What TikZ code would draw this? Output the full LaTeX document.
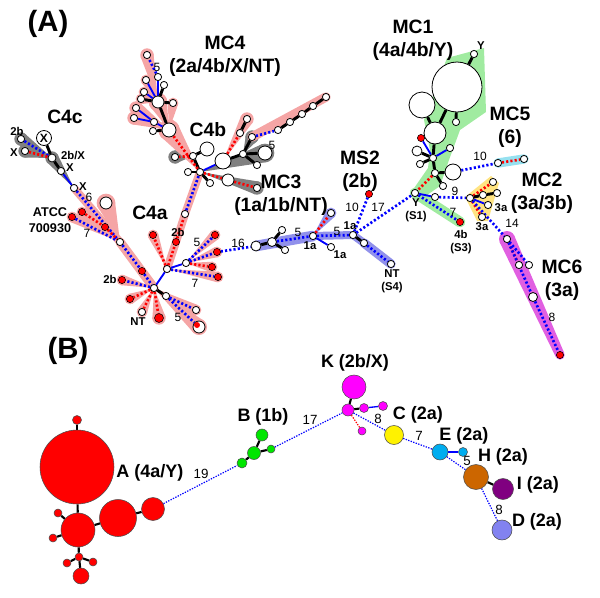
\documentclass[tikz,border=0pt]{standalone}
\usepackage{fontspec}
\setmainfont{Liberation Sans}
\usetikzlibrary{calc}
\definecolor{pinkb}{RGB}{245,165,165}
\definecolor{grayb}{RGB}{128,128,128}
\definecolor{lavb}{RGB}{145,145,235}
\definecolor{greenb}{RGB}{160,235,160}
\definecolor{cyanb}{RGB}{150,225,240}
\definecolor{yelb}{RGB}{255,228,130}
\definecolor{magb}{RGB}{225,95,225}
\definecolor{horange}{RGB}{204,102,0}
\definecolor{ipurple}{RGB}{128,0,128}
\definecolor{dblue}{RGB}{130,130,240}
\definecolor{bgreen}{RGB}{0,230,0}
\definecolor{kmag}{RGB}{255,0,255}
\pgfdeclarelayer{bands}
\pgfdeclarelayer{edges}
\pgfsetlayers{bands,edges,main}
\newcommand\myfan[4]{\fill[#1] (#2.center) -- ($(#3.center)!#4!90:(#2.center)$) -- ($(#3.center)!#4!-90:(#2.center)$) -- cycle; \fill[#1] (#3.center) circle[radius=#4];}
\newcommand\myband[4]{\draw[#1, line width=#4, line cap=round] (#2.center) -- (#3.center);}
\tikzset{
 wn/.style={circle,draw=black,fill=white,line width=0.6pt,inner sep=0pt,minimum size=#1*1.5pt},
 wn/.default=3.6,
 rn/.style={circle,draw=black,fill=red,line width=0.4pt,inner sep=0pt,minimum size=#1*1.5pt},
 rn/.default=3.6,
 pc/.style={circle,draw=black!70,line width=0.4pt,inner sep=0pt,minimum size=#1*1.5pt},
 bk/.style={line width=2.2pt,black},
 bs/.style={line width=1.4pt,blue},
 bd/.style={line width=2pt,blue,dash pattern=on 1.6pt off 1.6pt},
 rd/.style={line width=2pt,red,dash pattern=on 1.6pt off 1.6pt},
 td/.style={line width=0.9pt,blue,dash pattern=on 1pt off 1pt},
 bkt/.style={line width=1.6pt,black},
 bst/.style={line width=1pt,blue},
 rdt/.style={line width=0.9pt,red,dash pattern=on 1pt off 1pt},
 tl/.style={font=\bfseries\fontsize{22}{24}\selectfont},
 ml/.style={font=\bfseries\fontsize{14.5}{17.5}\selectfont, align=center, inner sep=0pt},
 sl/.style={font=\bfseries\fontsize{8.5}{10}\selectfont, inner sep=0.5pt, align=center},
 nl/.style={font=\fontsize{9}{10}\selectfont, inner sep=0.5pt},
 bl/.style={font=\bfseries\fontsize{13.5}{15}\selectfont, inner sep=0pt},
}
\begin{document}
\begin{tikzpicture}[x=0.75pt,y=-0.75pt]
\useasboundingbox (0,0) rectangle (600,597);
% ================= Panel A nodes =================
% C4c
\node[wn] (c1) at (21,139) {};
\node[wn] (c2) at (25,151) {};
\node[wn=7.5, font=\bfseries\fontsize{9}{9}\selectfont] (c3) at (44,138) {X};
\node[wn=4] (c4) at (52,158) {};
\node[wn] (c5) at (61,171) {};
\node[wn] (c6) at (74,188) {};
\node[wn=6] (c7) at (106,203) {};
\node[rn] (r1) at (82,212) {};
\node[rn] (r2) at (72,217) {};
\node[rn] (r3) at (105,227) {};
% C4a
\node[wn] (a1) at (120,242) {};
\node[rn] (a2) at (142,271) {};
\node[wn] (h4a) at (154,288) {};
\node[rn] (a3) at (122,280) {};
\node[rn] (a4) at (130,299) {};
\node[wn] (a5) at (142,312) {};
\node[rn=4.5] (a6) at (159,318) {};
\node[wn] (a7) at (166,296) {};
\node[wn] (a8) at (196,310) {};
\node[wn=6] (a9) at (199,327) {};
\node[circle,fill=red,inner sep=0pt,minimum size=4.5pt] (a9r) at (197,325) {};
\node[wn] (hub2) at (167,269) {};
\node[rn] (a10) at (153,235) {};
\node[rn] (a11) at (176,242) {};
\node[wn] (a12) at (185,214) {};
\node[wn] (a13) at (186,263) {};
\node[rn] (a14) at (215,235) {};
\node[rn] (a15) at (217,252) {};
\node[rn] (a16) at (212,267) {};
\node[rn] (a17) at (218,277) {};
% C4b
\node[wn] (hb) at (200,172) {};
\node[wn] (b1) at (193,156) {};
\node[wn=7] (b2) at (207,149) {};
\node[wn] (b3) at (175,157) {};
\node[wn] (b4) at (188,172) {};
\node[wn] (b5) at (210,183) {};
\node[wn=8] (b6) at (223,161) {};
\node[wn=6] (b7) at (228,180) {};
\node[wn] (b8) at (257,188) {};
\node[wn] (b9) at (243,154) {};
\node[wn=7] (b10) at (265,153) {};
\node[wn] (b11) at (257,165) {};
\node[wn] (b12) at (240,133) {};
\node[wn] (b13) at (247,119) {};
\node[wn] (b14) at (252,137) {};
\node[wn] (b15) at (278,130) {};
\node[wn] (b16) at (290,122) {};
\node[wn] (b17) at (302,114) {};
\node[wn] (b18) at (313,106) {};
\node[wn] (b19) at (326,97) {};
% MC4
\node[wn=7] (g1) at (169,130) {};
\node[wn=6] (g2) at (158,102) {};
\node[wn] (g3) at (154,122) {};
\node[wn] (g4) at (153,131) {};
\node[wn] (g5) at (136,108) {};
\node[wn] (g6) at (134,118) {};
\node[wn] (g7) at (173,103) {};
\node[wn] (g8) at (141,99) {};
\node[wn] (g9) at (144,92) {};
\node[wn] (g10) at (146,80) {};
\node[wn] (g11) at (158,77) {};
\node[wn] (g12) at (164,85) {};
\node[wn] (g13) at (147,55) {};
% MC3 / MS2
\node[wn=5] (m1) at (256,246) {};
\node[wn=4.5] (m2) at (272,242) {};
\node[wn] (m3) at (282,230) {};
\node[wn] (m4) at (285,250) {};
\node[wn] (mh) at (313,236) {};
\node[wn] (m5) at (331,213) {};
\node[wn] (m6) at (331,247) {};
\node[wn] (mj) at (353,235) {};
\node[wn] (m7) at (364,243) {};
\node[wn] (m8) at (391,264) {};
\node[rn] (ms2) at (369,194) {};
% MC1
\node[wn=25] (y1) at (457,87) {};
\node[wn] (y0) at (474,54) {};
\node[wn=13] (y2) at (422,105) {};
\node[wn=11] (y3) at (435,133) {};
\node[wn] (y4) at (456,122) {};
\node[rn] (y5) at (421,138) {};
\node[wn] (yh1) at (433,158) {};
\node[wn=5] (y6) at (417,151) {};
\node[wn] (y7) at (450,148) {};
\node[wn] (y8) at (420,164) {};
\node[wn] (yh2) at (435,173) {};
\node[wn=8] (y9) at (453,172) {};
\node[wn] (y10) at (443,186) {};
\node[wn] (ys1) at (415,193) {};
\node[wn] (y11) at (435,197) {};
\node[rn] (y12) at (460,222) {};
% MC5
\node[wn] (f1) at (498,163) {};
\node[wn] (f2) at (524,159) {};
% MC2
\node[wn] (q0) at (470,198) {};
\node[wn] (q1) at (493,182) {};
\node[wn] (q2) at (483,195) {};
\node[wn] (q3) at (497,193) {};
\node[wn] (q4) at (488,205) {};
\node[wn] (q5) at (482,217) {};
% MC6
\node[wn] (s1) at (507,239) {};
\node[wn] (s2) at (519,265) {};
\node[wn] (s3) at (529,265) {};
\node[wn=4.5] (s4) at (533,297) {};
\node[rn] (s5) at (560,355) {};

% ================= Panel B nodes =================
\node[pc=37, fill=red] (A1) at (77,467) {};
\node[pc=4.5, fill=red] (A0) at (77,420) {};
\node[pc=17, fill=red] (A2) at (78,530) {};
\node[pc=18.5, fill=red] (A3) at (118,518) {};
\node[pc=11.5, fill=red] (A4) at (153,509) {};
\node[pc=4, fill=red] (A5) at (58,513) {};
\node[pc=4, fill=red] (A6) at (53,538) {};
\node[pc=4, fill=red] (A7) at (79,557) {};
\node[pc=4, fill=red] (A8) at (67,563) {};
\node[pc=4, fill=red] (A9) at (93,562) {};
\node[pc=8, fill=red] (A10) at (81,576) {};
\node[pc=5, fill=bgreen] (B1) at (242,463) {};
\node[pc=6.5, fill=bgreen] (B2) at (254,453) {};
\node[pc=6, fill=bgreen] (B3) at (262,435) {};
\node[pc=4, fill=bgreen] (B4) at (271,449) {};
\node[pc=12, fill=kmag] (K1) at (354,387) {};
\node[pc=6, fill=kmag] (K0) at (348,410) {};
\node[pc=4.5, fill=kmag] (K3) at (364,408) {};
\node[pc=4.5, fill=kmag] (K4) at (383,406) {};
\node[pc=4, fill=kmag] (K5) at (362,431) {};
\node[pc=9.5, fill=yellow] (C) at (394,435) {};
\node[pc=8, fill=cyan] (E) at (440,452) {};
\node[pc=4.5, fill=cyan] (E2) at (463,452) {};
\node[pc=12.5, fill=horange] (H) at (476,477) {};
\node[pc=10.5, fill=ipurple] (I) at (503,489) {};
\node[pc=10, fill=dblue] (D) at (502,530) {};

% ================= Bands =================
\begin{pgfonlayer}{bands}
% C4c gray
\myfan{grayb}{c4}{c1}{5pt}
\myfan{grayb}{c4}{c2}{5pt}
\myfan{grayb}{c6}{c4}{5pt}
% C4a pink
\myband{pinkb}{c6}{a1}{6pt}
\myfan{pinkb}{a1}{c7}{7pt}
\myfan{pinkb}{a1}{r1}{4pt}
\myfan{pinkb}{a1}{r2}{4pt}
\myband{pinkb}{a1}{h4a}{7pt}
\myfan{pinkb}{h4a}{a3}{4pt}
\myfan{pinkb}{h4a}{a4}{4pt}
\myfan{pinkb}{h4a}{a5}{4pt}
\myfan{pinkb}{h4a}{a6}{5pt}
\myfan{pinkb}{h4a}{a8}{4pt}
\myfan{pinkb}{h4a}{a9}{6pt}
\myfan{pinkb}{hub2}{a10}{4pt}
\myband{pinkb}{hub2}{a11}{6pt}
\myband{pinkb}{a11}{a12}{6pt}
\myband{pinkb}{a12}{hb}{6pt}
\myfan{pinkb}{a13}{a14}{4pt}
\myfan{pinkb}{a13}{a15}{4pt}
\myfan{pinkb}{a13}{a16}{4pt}
\myfan{pinkb}{hub2}{a17}{4pt}
% C4b
\myfan{grayb}{b1}{b3}{5pt}
\myfan{grayb}{hb}{b8}{5pt}
\myfan{grayb}{hb}{b10}{7pt}
\myfan{grayb}{b9}{b14}{5pt}
\myfan{pinkb}{b6}{b13}{5pt}
\myband{pinkb}{b14}{b19}{7pt}
% MC4
\myfan{pinkb}{hb}{g1}{8pt}
\myfan{pinkb}{g1}{g5}{5pt}
\myfan{pinkb}{g1}{g6}{5pt}
\myfan{pinkb}{g1}{g2}{7pt}
\myfan{pinkb}{g1}{g7}{4pt}
\myfan{pinkb}{g2}{g13}{5pt}
\myfan{pinkb}{g2}{g8}{4pt}
\myfan{pinkb}{g2}{g9}{4pt}
\myfan{pinkb}{g2}{g10}{4pt}
% MC3
\myband{lavb}{m1}{mh}{8pt}
\myfan{lavb}{mh}{m5}{4pt}
\myband{lavb}{mh}{mj}{6pt}
\myband{lavb}{mj}{m7}{6pt}
\myband{lavb}{m7}{m8}{7pt}
% MC1
\fill[greenb] (447,58) -- (484,48) -- (486,112) -- (460,130) -- (449,160) -- (440,186) -- (420,200) -- (410,194) -- (428,168) -- (430,150) -- (424,120) -- cycle;
\myband{greenb}{ys1}{y12}{8pt}
% MC5
\myband{cyanb}{f1}{f2}{7pt}
% MC2
\fill[yelb] (465,197) -- (491,176) -- (499,183) -- (488,221) -- (477,221) -- cycle;
% MC6
\fill[magb] ($(s1.center)!6pt!90:(s5.center)$) -- ($(s1.center)!6pt!-90:(s5.center)$) -- ($(s5.center)!3.5pt!90:(s1.center)$) -- ($(s5.center)!3.5pt!-90:(s1.center)$) -- cycle;
\fill[magb] (s1.center) circle[radius=6pt];
\fill[magb] (s5.center) circle[radius=3.5pt];
\end{pgfonlayer}

% ================= Edges =================
\begin{pgfonlayer}{edges}
% C4c
\draw[bd] (c1) -- (c4);
\draw[rd] (c2) -- (c4);
\draw[bk] (c3) -- (c4);
\draw[bk] (c4) -- (c5);
\draw[bs] (c5) -- (c6);
\draw[bd] (c6) -- (a1);
% C4a
\draw[bd] (r2) -- (a1);
\draw[rd] (r1) -- (r3);
\draw[rd] (r3) -- (a1);
\draw[bd] (a1) -- (a2);
\draw[bd] (a2) -- (h4a);
\draw[bd] (h4a) -- (a3);
\draw[rd] (h4a) -- (a4);
\draw[rd] (h4a) -- (a5);
\draw[rd] (h4a) -- (a6);
\draw[bk] (h4a) -- (a7);
\draw[bd] (a7) -- (a8);
\draw[bd] (a7) -- (a9);
\draw[bs] (h4a) -- (hub2);
\draw[rd] (hub2) -- (a10);
\draw[rd] (hub2) -- (a11);
\draw[rd] (a11) -- (a12);
\draw[bd] (a12) -- (hb);
\draw[bs] (hub2) -- (a13);
\draw[bd] (a13) -- (a14);
\draw[bd] (a13) -- (a15);
\draw[rd] (a13) -- (a16);
\draw[bd] (hub2) -- (a17);
\draw[bd] (a15) -- (m1);
% C4b
\draw[bk] (hb) -- (b1);
\draw[bk] (b1) -- (b2);
\draw[rd] (b1) -- (b3);
\draw[bk] (hb) -- (b4);
\draw[bk] (hb) -- (b5);
\draw[rd] (hb) -- (g1);
\draw[bs] (hb) -- (b6);
\draw[rd] (hb) -- (b7);
\draw[rd] (b7) -- (b8);
\draw[bk] (b6) -- (b9);
\draw[bk] (b9) -- (b10);
\draw[bk] (b9) -- (b11);
\draw[rd] (b6) -- (b12);
\draw[bk] (b12) -- (b13);
\draw[bk] (b9) -- (b14);
\draw[bd] (b14) -- (b15);
\draw[bk] (b15) -- (b16);
\draw[bk] (b16) -- (b17);
\draw[bk] (b17) -- (b18);
\draw[bk] (b18) -- (b19);
% MC4
\draw[bk] (g1) -- (g2);
\draw[bs] (g1) -- (g3);
\draw[bk] (g1) -- (g4);
\draw[bs] (g3) -- (g5);
\draw[bs] (g3) -- (g6);
\draw[bk] (g2) -- (g7);
\draw[bk] (g2) -- (g8);
\draw[bs] (g2) -- (g9);
\draw[bs] (g2) -- (g10);
\draw[bs] (g2) -- (g11);
\draw[bk] (g2) -- (g12);
\draw[bd] (g11) -- (g13);
% MC3
\draw[bk] (m1) -- (m2);
\draw[bk] (m2) -- (m3);
\draw[bk] (m2) -- (m4);
\draw[bd] (m2) -- (mh);
\draw[rd] (mh) -- (m5);
\draw[bs] (mh) -- (m6);
\draw[bd] (mh) -- (mj);
\draw[bk] (mj) -- (m7);
\draw[bd] (m7) -- (m8);
\draw[bd] (mj) -- (ms2);
\draw[bd] (mj) -- (ys1);
% MC1
\draw[bk] (y1) -- (y0);
\draw[bk] (y1) -- (y4);
\draw[bk] (y1) -- (y3);
\draw[bk] (y2) -- (y3);
\draw[bk] (y3) -- (yh1);
\draw[bs] (yh1) -- (y5);
\draw[bs] (yh1) -- (y7);
\draw[bk] (yh1) -- (y6);
\draw[bk] (yh1) -- (y8);
\draw[bk] (yh1) -- (yh2);
\draw[bk] (yh2) -- (y9);
\draw[bk] (yh2) -- (y10);
\draw[rd] (yh2) -- (ys1);
\draw[bs] (ys1) -- (y11);
\draw[bd] (y11) -- (q0);
\draw[bd] (ys1) -- (y12);
\draw[bd] (y9) -- (f1);
\draw[rd] (f1) -- (f2);
% MC2
\draw[rd] (q0) -- (q1);
\draw[bk] (q0) -- (q2);
\draw[bk] (q2) -- (q3);
\draw[bs] (q0) -- (q4);
\draw[rd] (q0) -- (q5);
\draw[bd] (q0) -- (s1);
% MC6
\draw[rd] (s1) -- (s2);
\draw[bd] (s1) -- (s3);
\draw[bd] (s1) -- (s4);
\draw[bd] (s4) -- (s5);
% Panel B
\draw[bkt] (A1) -- (A0);
\draw[bkt] (A1) -- (A2);
\draw[bkt] (A2) -- (A3);
\draw[bkt] (A3) -- (A4);
\draw[bkt] (A2) -- (A5);
\draw[bkt] (A2) -- (A6);
\draw[bkt] (A2) -- (A7);
\draw[bkt] (A7) -- (A8);
\draw[bkt] (A7) -- (A9);
\draw[bkt] (A7) -- (A10);
\draw[td] (A4) -- (B1);
\draw[bkt] (B1) -- (B2);
\draw[bkt] (B2) -- (B3);
\draw[bkt] (B2) -- (B4);
\draw[td] (B4) -- (K0);
\draw[bkt] (K0) -- (K1);
\draw[bkt] (K0) -- (K3);
\draw[bst] (K3) -- (K4);
\draw[rdt] (K0) -- (K5);
\draw[td] (K0) -- (C);
\draw[td] (C) -- (E);
\draw[bst] (E) -- (E2);
\draw[td] (E) -- (H);
\draw[bkt] (H) -- (I);
\draw[td] (H) -- (D);
\end{pgfonlayer}

% ================= Labels =================
\node[tl] (tA) at (48,24) {(A)};
\node[tl] (tB) at (68,351) {(B)};
\node[ml] (lC4c) at (65,117) {C4c};
\node[ml] (lC4a) at (150,213) {C4a};
\node[ml] (lC4b) at (208,130) {C4b};
\node[ml] (lMC4) at (225,56) {MC4\\(2a/4b/X/NT)};
\node[ml] (lMC3) at (281,195) {MC3\\(1a/1b/NT)};
\node[ml] (lMS2) at (360,171) {MS2\\(2b)};
\node[ml] (lMC1) at (413,40) {MC1\\(4a/4b/Y)};
\node[ml] (lMC5) at (510,127) {MC5\\(6)};
\node[ml] (lMC2) at (542,193) {MC2\\(3a/3b)};
\node[ml] (lMC6) at (562,280) {MC6\\(3a)};
% small labels
\node[sl] at (17,131) {2b};
\node[sl] at (14,153) {X};
\node[sl] at (73,156) {2b/X};
\node[sl] at (70,168) {X};
\node[sl] at (83,187) {X};
\node[nl] at (89,197) {6};
\node[sl, font=\bfseries\fontsize{9.5}{11.5}\selectfont] at (50,220) {ATCC\\700930};
\node[nl] at (87,233) {7};
\node[sl] at (110,279) {2b};
\node[sl] at (138,322) {NT};
\node[nl] at (178,317) {5};
\node[sl] at (178,232) {2b};
\node[nl] at (197,242) {5};
\node[nl] at (195,283) {7};
\node[nl] at (157,67) {5};
\node[nl] at (272,145) {5};
\node[nl] at (238,243) {16};
\node[nl] at (298,232) {5};
\node[sl] at (310,246) {1a};
\node[sl] at (340,255) {1a};
\node[nl] at (337,231) {5};
\node[sl] at (350,226) {1a};
\node[sl] at (392,281) {NT\\(S4)};
\node[nl] at (352,207) {10};
\node[nl] at (378,207) {17};
\node[sl] at (481,46) {Y};
\node[sl] at (416,210) {Y\\(S1)};
\node[nl] at (453,212) {7};
\node[sl] at (461,242) {4b\\(S3)};
\node[nl] at (455,191) {9};
\node[nl] at (480,156) {10};
\node[sl] at (482,227) {3a};
\node[sl] at (501,208) {3a};
\node[nl] at (512,223) {14};
\node[nl] at (552,317) {8};
% Panel B labels
\node[bl] at (150,473) {A (4a/Y)};
\node[nl, font=\fontsize{10}{11}\selectfont] at (201,474) {19};
\node[bl] at (263,417) {B (1b)};
\node[nl, font=\fontsize{10}{11}\selectfont] at (310,420) {17};
\node[bl] at (355,363) {K (2b/X)};
\node[nl, font=\fontsize{10}{11}\selectfont] at (378,419) {8};
\node[bl] at (418,415) {C (2a)};
\node[nl, font=\fontsize{10}{11}\selectfont] at (419,436) {7};
\node[bl] at (464,436) {E (2a)};
\node[nl, font=\fontsize{10}{11}\selectfont] at (467,461) {5};
\node[bl] at (503,457) {H (2a)};
\node[bl] at (538,485) {I (2a)};
\node[nl, font=\fontsize{10}{11}\selectfont] at (499,510) {8};
\node[bl] at (537,522) {D (2a)};
\end{tikzpicture}
\end{document}
